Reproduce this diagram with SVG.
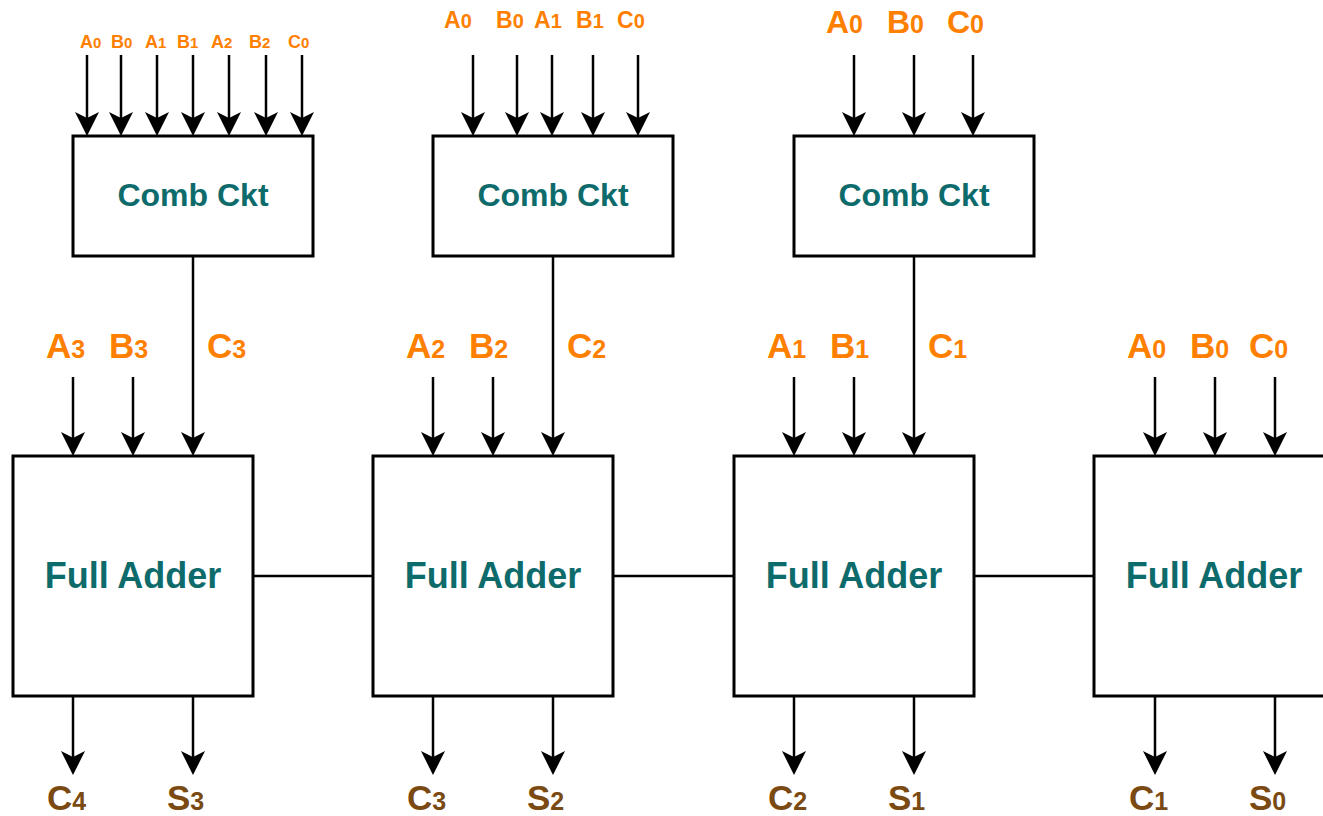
<svg xmlns="http://www.w3.org/2000/svg" width="1323" height="816" viewBox="0 0 1323 816">
<style>
.box{fill:#fff;stroke:#000;stroke-width:3}
.ln{fill:none;stroke:#000;stroke-width:2.5}
.t{font-family:"Liberation Sans",Arial,sans-serif;font-weight:bold;fill:#0E6B6B;text-anchor:middle}
.in{font-family:"Liberation Sans",Arial,sans-serif;font-weight:bold;fill:#FF8000}
.out{font-family:"Liberation Sans",Arial,sans-serif;font-weight:bold;fill:#7A4A12}
</style>
<defs>
<marker id="ah" markerUnits="userSpaceOnUse" markerWidth="24" markerHeight="24" viewBox="0 0 24 24" refX="6" refY="12" orient="auto">
<path d="M0,0 L24,12 L0,24 L6,12 Z" fill="#000"/>
</marker>
</defs>
<rect width="1323" height="816" fill="#fff"/>

<g id="connectors">
<path class="ln" marker-end="url(#ah)" d="M87,55 V118"/>
<path class="ln" marker-end="url(#ah)" d="M121,55 V118"/>
<path class="ln" marker-end="url(#ah)" d="M157,55 V118"/>
<path class="ln" marker-end="url(#ah)" d="M193,55 V118"/>
<path class="ln" marker-end="url(#ah)" d="M229,55 V118"/>
<path class="ln" marker-end="url(#ah)" d="M266,55 V118"/>
<path class="ln" marker-end="url(#ah)" d="M302,55 V118"/>
<path class="ln" marker-end="url(#ah)" d="M473,55 V118"/>
<path class="ln" marker-end="url(#ah)" d="M517,55 V118"/>
<path class="ln" marker-end="url(#ah)" d="M552,55 V118"/>
<path class="ln" marker-end="url(#ah)" d="M593,55 V118"/>
<path class="ln" marker-end="url(#ah)" d="M638,55 V118"/>
<path class="ln" marker-end="url(#ah)" d="M854,55 V118"/>
<path class="ln" marker-end="url(#ah)" d="M914,55 V118"/>
<path class="ln" marker-end="url(#ah)" d="M973,55 V118"/>
<path class="ln" marker-end="url(#ah)" d="M73,377 V438"/>
<path class="ln" marker-end="url(#ah)" d="M133,377 V438"/>
<path class="ln" marker-end="url(#ah)" d="M193,256 V438"/>
<path class="ln" marker-end="url(#ah)" d="M433,377 V438"/>
<path class="ln" marker-end="url(#ah)" d="M493,377 V438"/>
<path class="ln" marker-end="url(#ah)" d="M553,256 V438"/>
<path class="ln" marker-end="url(#ah)" d="M794,377 V438"/>
<path class="ln" marker-end="url(#ah)" d="M854,377 V438"/>
<path class="ln" marker-end="url(#ah)" d="M914,256 V438"/>
<path class="ln" marker-end="url(#ah)" d="M1155,377 V438"/>
<path class="ln" marker-end="url(#ah)" d="M1215,377 V438"/>
<path class="ln" marker-end="url(#ah)" d="M1275,377 V438"/>
<path class="ln" d="M253,576 H373"/>
<path class="ln" d="M613,576 H734"/>
<path class="ln" d="M974,576 H1094"/>
<path class="ln" marker-end="url(#ah)" d="M73,697 V757"/>
<path class="ln" marker-end="url(#ah)" d="M193,697 V757"/>
<path class="ln" marker-end="url(#ah)" d="M433,697 V757"/>
<path class="ln" marker-end="url(#ah)" d="M553,697 V757"/>
<path class="ln" marker-end="url(#ah)" d="M794,697 V757"/>
<path class="ln" marker-end="url(#ah)" d="M914,697 V757"/>
<path class="ln" marker-end="url(#ah)" d="M1155,697 V757"/>
<path class="ln" marker-end="url(#ah)" d="M1275,697 V757"/>
</g>

<g id="comb1"><rect class="box" x="73" y="136" width="240" height="120"/><text class="t" x="193" y="206" font-size="32">Comb Ckt</text></g>
<g id="comb2"><rect class="box" x="433" y="136" width="240" height="120"/><text class="t" x="553" y="206" font-size="32">Comb Ckt</text></g>
<g id="comb3"><rect class="box" x="794" y="136" width="240" height="120"/><text class="t" x="914" y="206" font-size="32">Comb Ckt</text></g>

<g id="fa3"><rect class="box" x="13" y="456" width="240" height="240"/><text class="t" x="133" y="588" font-size="36">Full Adder</text></g>
<g id="fa2"><rect class="box" x="373" y="456" width="240" height="240"/><text class="t" x="493" y="588" font-size="36">Full Adder</text></g>
<g id="fa1"><rect class="box" x="734" y="456" width="240" height="240"/><text class="t" x="854" y="588" font-size="36">Full Adder</text></g>
<g id="fa0"><rect class="box" x="1094" y="456" width="240" height="240"/><text class="t" x="1214" y="588" font-size="36">Full Adder</text></g>

<g id="labels-comb1" font-size="18">
<text class="in" x="80" y="48">A<tspan font-size="15">0</tspan></text>
<text class="in" x="111" y="48">B<tspan font-size="15">0</tspan></text>
<text class="in" x="145" y="48">A<tspan font-size="15">1</tspan></text>
<text class="in" x="177" y="48">B<tspan font-size="15">1</tspan></text>
<text class="in" x="211" y="48">A<tspan font-size="15">2</tspan></text>
<text class="in" x="249" y="48">B<tspan font-size="15">2</tspan></text>
<text class="in" x="288" y="48">C<tspan font-size="15">0</tspan></text>
</g>
<g id="labels-comb2" font-size="23">
<text class="in" x="444" y="28">A<tspan font-size="20">0</tspan></text>
<text class="in" x="496" y="28">B<tspan font-size="20">0</tspan></text>
<text class="in" x="534" y="28">A<tspan font-size="20">1</tspan></text>
<text class="in" x="576" y="28">B<tspan font-size="20">1</tspan></text>
<text class="in" x="617" y="28">C<tspan font-size="20">0</tspan></text>
</g>
<g id="labels-comb3" font-size="32">
<text class="in" x="826" y="33">A<tspan font-size="25">0</tspan></text>
<text class="in" x="887" y="33">B<tspan font-size="25">0</tspan></text>
<text class="in" x="947" y="33">C<tspan font-size="25">0</tspan></text>
</g>
<g id="labels-fa" font-size="35">
<text class="in" x="46" y="358">A<tspan font-size="25">3</tspan></text>
<text class="in" x="109" y="358">B<tspan font-size="25">3</tspan></text>
<text class="in" x="207" y="358">C<tspan font-size="25">3</tspan></text>
<text class="in" x="406" y="358">A<tspan font-size="25">2</tspan></text>
<text class="in" x="469" y="358">B<tspan font-size="25">2</tspan></text>
<text class="in" x="567" y="358">C<tspan font-size="25">2</tspan></text>
<text class="in" x="767" y="358">A<tspan font-size="25">1</tspan></text>
<text class="in" x="830" y="358">B<tspan font-size="25">1</tspan></text>
<text class="in" x="928" y="358">C<tspan font-size="25">1</tspan></text>
<text class="in" x="1127" y="358">A<tspan font-size="25">0</tspan></text>
<text class="in" x="1190" y="358">B<tspan font-size="25">0</tspan></text>
<text class="in" x="1249" y="358">C<tspan font-size="25">0</tspan></text>
</g>
<g id="labels-out" font-size="35">
<text class="out" x="47" y="810">C<tspan font-size="25">4</tspan></text>
<text class="out" x="167" y="810">S<tspan font-size="25">3</tspan></text>
<text class="out" x="407" y="810">C<tspan font-size="25">3</tspan></text>
<text class="out" x="527" y="810">S<tspan font-size="25">2</tspan></text>
<text class="out" x="768" y="810">C<tspan font-size="25">2</tspan></text>
<text class="out" x="888" y="810">S<tspan font-size="25">1</tspan></text>
<text class="out" x="1129" y="810">C<tspan font-size="25">1</tspan></text>
<text class="out" x="1249" y="810">S<tspan font-size="25">0</tspan></text>
</g>
</svg>
